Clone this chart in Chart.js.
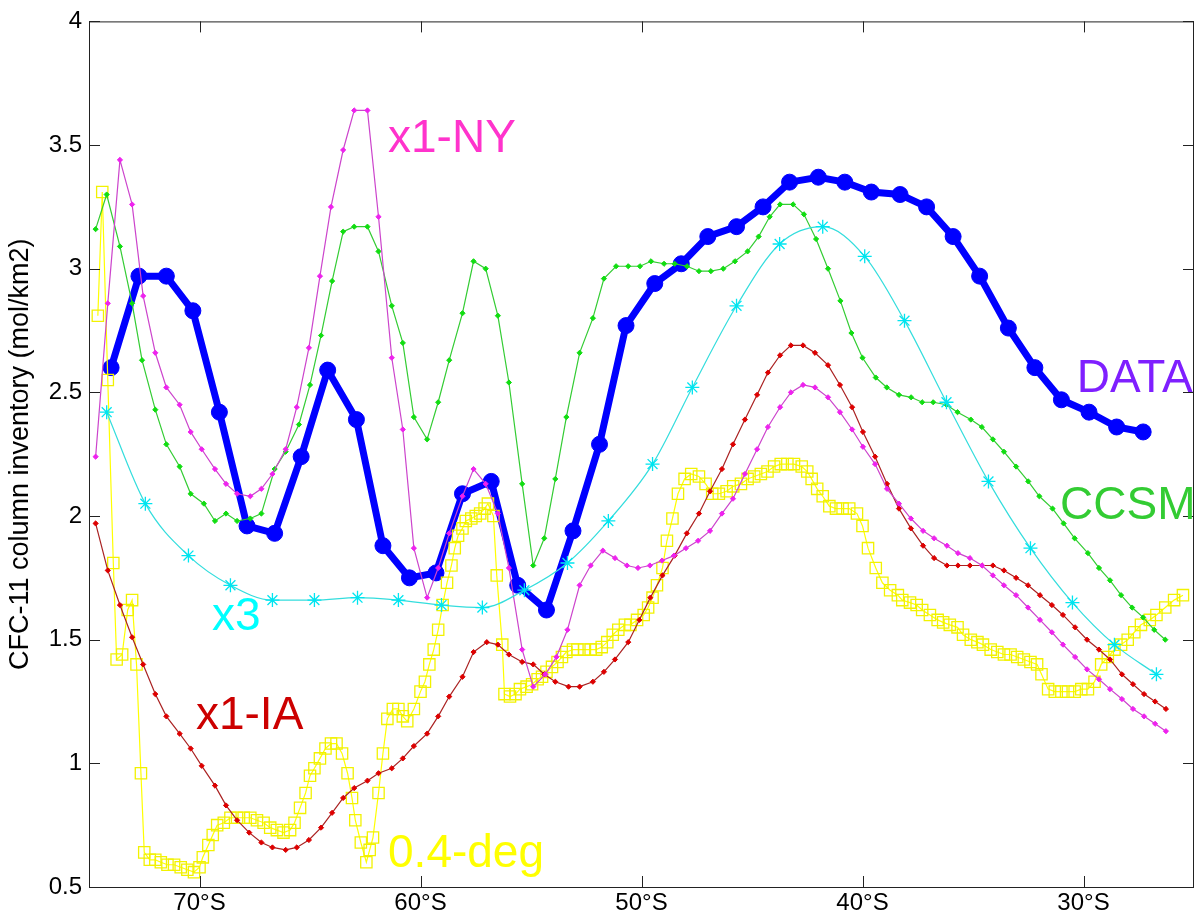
<!DOCTYPE html>
<html>
<head>
<meta charset="utf-8">
<script src="https://cdn.jsdelivr.net/npm/chart.js@4.4.1/dist/chart.umd.min.js"></script>
<style>
html,body{margin:0;padding:0;background:#fff;}
</style>
</head>
<body>
<canvas id="chart" width="1204" height="921"></canvas>
<script>
// ══════════════ DONNÉES ══════════════
const X_TICKS = [-70, -60, -50, -40, -30];
const Y_TICKS = [0.5, 1, 1.5, 2, 2.5, 3, 3.5, 4];

// DATA (observations)
const DATA_LAT = [-74.0,-72.74,-71.5,-70.3,-69.1,-67.85,-66.6,-65.4,-64.2,-62.9,-61.7,-60.5,-59.3,-58.1,-56.8,-55.6,-54.3,-53.1,-51.9,-50.7,-49.4,-48.2,-47.0,-45.7,-44.5,-43.3,-42.0,-40.8,-39.6,-38.3,-37.1,-35.9,-34.7,-33.4,-32.2,-31.0,-29.75,-28.5,-27.3];
const DATA_VAL = [2.60,2.97,2.97,2.83,2.42,1.96,1.93,2.24,2.59,2.39,1.88,1.75,1.77,2.09,2.14,1.72,1.62,1.94,2.29,2.77,2.94,3.02,3.13,3.17,3.25,3.35,3.37,3.35,3.31,3.30,3.25,3.13,2.97,2.76,2.60,2.47,2.42,2.36,2.34];

// CCSM
const CCSM_LAT = [-74.7,-74.2,-73.6,-73.05,-72.6,-72.0,-71.5,-70.9,-70.4,-69.8,-69.3,-68.8,-68.3,-67.7,-67.2,-66.6,-66.1,-65.5,-65.0,-64.5,-64.0,-63.5,-63.0,-62.4,-61.9,-61.3,-60.8,-60.3,-59.7,-59.2,-58.7,-58.1,-57.6,-57.05,-56.5,-56.0,-55.4,-54.9,-54.4,-53.9,-53.4,-52.8,-52.2,-51.7,-51.15,-50.6,-50.07,-49.57,-48.98,-48.5,-47.94,-47.4,-46.86,-46.3,-45.77,-45.2,-44.7,-44.2,-43.73,-43.14,-42.65,-42.1,-41.56,-41.0,-40.5,-40.0,-39.4,-38.9,-38.35,-37.8,-37.3,-36.8,-36.2,-35.7,-35.1,-34.6,-34.1,-33.6,-33.05,-32.5,-32.0,-31.4,-30.9,-30.4,-29.8,-29.3,-28.8,-28.3,-27.8,-27.3,-26.8,-26.3];
const CCSM_VAL = [3.16,3.30,3.09,2.86,2.63,2.43,2.29,2.20,2.09,2.05,1.98,2.01,1.98,1.99,2.01,2.19,2.26,2.37,2.53,2.73,2.95,3.15,3.17,3.17,3.07,2.85,2.70,2.40,2.31,2.46,2.63,2.82,3.03,3.00,2.81,2.54,2.13,1.80,1.91,2.15,2.40,2.66,2.80,2.96,3.01,3.01,3.01,3.03,3.02,3.02,3.01,2.99,2.99,3.00,3.03,3.07,3.13,3.21,3.26,3.26,3.22,3.12,3.00,2.87,2.74,2.64,2.56,2.52,2.49,2.48,2.46,2.46,2.45,2.42,2.39,2.36,2.31,2.26,2.20,2.14,2.08,2.03,1.97,1.91,1.85,1.79,1.74,1.68,1.63,1.59,1.54,1.50];

// x1-NY
const NY_LAT = [-74.7,-74.15,-73.6,-73.05,-72.55,-72.0,-71.5,-70.9,-70.4,-69.9,-69.3,-68.8,-68.3,-67.7,-67.2,-66.7,-66.1,-65.6,-65.05,-64.55,-64.05,-63.5,-63.0,-62.4,-61.9,-61.3,-60.8,-60.3,-59.7,-59.2,-58.7,-58.1,-57.6,-57.05,-56.5,-56.0,-55.4,-54.9,-54.35,-53.85,-53.35,-52.8,-52.3,-51.75,-51.2,-50.66,-50.16,-49.62,-49.07,-48.53,-47.99,-47.44,-46.9,-46.36,-45.86,-45.32,-44.77,-44.28,-43.73,-43.24,-42.69,-42.15,-41.56,-41.02,-40.47,-39.98,-39.43,-38.89,-38.35,-37.81,-37.26,-36.76,-36.18,-35.68,-35.14,-34.59,-34.1,-33.6,-33.05,-32.51,-31.97,-31.43,-30.93,-30.38,-29.84,-29.3,-28.8,-28.26,-27.76,-27.26,-26.76,-26.27];
const NY_VAL = [2.24,2.86,3.44,3.26,2.89,2.66,2.52,2.45,2.34,2.27,2.19,2.13,2.09,2.08,2.11,2.17,2.27,2.44,2.68,2.97,3.25,3.48,3.64,3.64,3.21,2.64,2.35,1.87,1.67,1.79,1.93,2.08,2.19,2.13,2.01,1.79,1.46,1.31,1.36,1.43,1.54,1.72,1.80,1.86,1.83,1.80,1.79,1.80,1.82,1.84,1.87,1.90,1.94,2.01,2.07,2.17,2.27,2.36,2.44,2.50,2.53,2.52,2.48,2.42,2.35,2.28,2.21,2.11,2.05,1.99,1.94,1.91,1.88,1.85,1.83,1.80,1.76,1.72,1.68,1.63,1.58,1.53,1.48,1.43,1.38,1.34,1.30,1.26,1.22,1.19,1.16,1.13];

// x1-IA
const IA_LAT = [-74.7,-74.15,-73.6,-73.05,-72.55,-72.0,-71.5,-70.9,-70.4,-69.9,-69.3,-68.8,-68.3,-67.75,-67.2,-66.7,-66.1,-65.6,-65.05,-64.5,-64.0,-63.5,-63.0,-62.4,-61.9,-61.3,-60.8,-60.3,-59.7,-59.2,-58.7,-58.1,-57.6,-57.0,-56.5,-56.0,-55.4,-54.9,-54.4,-53.9,-53.3,-52.8,-52.2,-51.7,-51.2,-50.6,-50.1,-49.6,-49.05,-48.5,-47.95,-47.4,-46.9,-46.36,-45.86,-45.32,-44.77,-44.28,-43.73,-43.24,-42.69,-42.15,-41.56,-41.02,-40.47,-39.98,-39.43,-38.89,-38.35,-37.81,-37.26,-36.76,-36.18,-35.68,-35.14,-34.59,-34.1,-33.6,-33.05,-32.51,-31.97,-31.43,-30.93,-30.38,-29.84,-29.3,-28.8,-28.26,-27.76,-27.26,-26.76,-26.27];
const IA_VAL = [1.97,1.78,1.64,1.51,1.40,1.28,1.19,1.12,1.06,0.99,0.91,0.83,0.77,0.72,0.68,0.66,0.65,0.66,0.69,0.74,0.80,0.86,0.90,0.93,0.96,0.98,1.02,1.07,1.12,1.19,1.27,1.35,1.45,1.49,1.48,1.44,1.41,1.40,1.36,1.33,1.31,1.31,1.33,1.37,1.42,1.49,1.58,1.67,1.76,1.84,1.93,2.01,2.10,2.19,2.29,2.39,2.49,2.58,2.65,2.69,2.69,2.66,2.61,2.53,2.44,2.34,2.24,2.13,2.03,1.95,1.88,1.83,1.80,1.80,1.80,1.80,1.80,1.78,1.75,1.72,1.68,1.64,1.60,1.55,1.50,1.46,1.42,1.36,1.32,1.28,1.25,1.22];

// x3
const X3_LAT = [-74.2,-72.45,-70.5,-68.6,-66.7,-64.8,-62.85,-61.0,-59.05,-57.2,-55.3,-53.35,-51.5,-49.5,-47.7,-45.7,-43.75,-41.8,-39.9,-38.1,-36.2,-34.3,-32.4,-30.5,-28.6,-26.7];
const X3_VAL = [2.42,2.05,1.84,1.72,1.66,1.66,1.67,1.66,1.64,1.63,1.70,1.81,1.98,2.21,2.52,2.85,3.10,3.17,3.05,2.79,2.46,2.14,1.87,1.65,1.48,1.36];

// 0.4-deg
const DEG04_LAT = [-74.6,-74.4,-74.15,-73.9,-73.75,-73.5,-73.25,-73.05,-72.85,-72.65,-72.5,-72.25,-72.0,-71.75,-71.45,-71.15,-70.85,-70.55,-70.25,-70.0,-69.85,-69.6,-69.4,-69.2,-68.9,-68.6,-68.3,-68.0,-67.7,-67.4,-67.1,-66.8,-66.5,-66.2,-65.9,-65.7,-65.45,-65.2,-65.0,-64.8,-64.55,-64.3,-64.05,-63.8,-63.55,-63.3,-63.1,-62.95,-62.7,-62.45,-62.3,-62.15,-61.9,-61.7,-61.5,-61.25,-61.0,-60.8,-60.6,-60.3,-60.0,-59.8,-59.6,-59.4,-59.2,-59.0,-58.8,-58.6,-58.45,-58.3,-58.1,-57.95,-57.7,-57.5,-57.3,-57.1,-56.95,-56.7,-56.55,-56.3,-56.2,-55.95,-55.7,-55.5,-55.2,-54.95,-54.7,-54.5,-54.3,-54.05,-53.8,-53.6,-53.4,-53.1,-52.9,-52.6,-52.3,-52.05,-51.8,-51.55,-51.3,-51.05,-50.75,-50.5,-50.2,-49.9,-49.7,-49.5,-49.3,-49.05,-48.85,-48.6,-48.35,-48.05,-47.75,-47.4,-47.1,-46.8,-46.5,-46.15,-45.85,-45.5,-45.2,-44.9,-44.6,-44.3,-44.0,-43.7,-43.4,-43.1,-42.75,-42.5,-42.3,-42.05,-41.8,-41.5,-41.2,-40.9,-40.6,-40.25,-40.0,-39.75,-39.4,-39.1,-38.75,-38.4,-38.2,-37.85,-37.55,-37.3,-36.95,-36.6,-36.35,-36.05,-35.7,-35.45,-35.1,-34.8,-34.55,-34.2,-33.9,-33.6,-33.3,-33.0,-32.7,-32.4,-32.1,-31.9,-31.6,-31.3,-31.0,-30.7,-30.4,-30.1,-29.8,-29.5,-29.2,-28.9,-28.6,-28.3,-28.0,-27.7,-27.4,-27.0,-26.7,-26.3,-25.9,-25.5];
const DEG04_VAL = [2.81,3.31,2.55,1.81,1.42,1.44,1.62,1.66,1.40,0.96,0.64,0.61,0.61,0.60,0.59,0.59,0.58,0.57,0.56,0.58,0.62,0.67,0.71,0.75,0.76,0.78,0.78,0.78,0.78,0.77,0.76,0.74,0.73,0.72,0.73,0.76,0.82,0.88,0.95,0.98,1.02,1.06,1.08,1.08,1.04,0.96,0.86,0.77,0.68,0.60,0.65,0.70,0.88,1.04,1.18,1.22,1.22,1.19,1.17,1.22,1.29,1.33,1.40,1.46,1.54,1.64,1.73,1.80,1.87,1.92,1.95,1.98,1.99,2.00,2.01,2.03,2.05,2.00,1.76,1.48,1.28,1.27,1.28,1.30,1.31,1.32,1.34,1.35,1.37,1.39,1.41,1.43,1.45,1.46,1.46,1.46,1.46,1.46,1.47,1.49,1.52,1.54,1.56,1.56,1.58,1.60,1.63,1.67,1.72,1.79,1.90,1.99,2.09,2.15,2.17,2.16,2.13,2.09,2.09,2.10,2.12,2.13,2.15,2.16,2.17,2.18,2.20,2.21,2.21,2.21,2.20,2.18,2.15,2.11,2.08,2.04,2.03,2.03,2.03,2.01,1.96,1.87,1.79,1.73,1.70,1.68,1.66,1.65,1.64,1.62,1.60,1.58,1.57,1.56,1.55,1.52,1.50,1.49,1.48,1.46,1.45,1.44,1.44,1.43,1.42,1.41,1.40,1.36,1.30,1.29,1.29,1.29,1.29,1.30,1.30,1.33,1.40,1.43,1.46,1.48,1.50,1.53,1.56,1.58,1.60,1.63,1.66,1.68];

// Étiquettes posées dans le repère des données
const LABELS = [
  { text:'x1-NY',   lat:-61.47, val:3.47, color:'#ff33cc' },
  { text:'DATA',    lat:-30.3,  val:2.50, color:'#7f1fff' },
  { text:'CCSM',    lat:-31.06, val:1.99, color:'#33cc33' },
  { text:'x3',      lat:-69.43, val:1.54, color:'#00ffff' },
  { text:'x1-IA',   lat:-70.16, val:1.14, color:'#cc0000' },
  { text:'0.4-deg', lat:-61.47, val:0.58, color:'#ffff00' }
];

const FONT = '"Liberation Sans", Arial, Helvetica, sans-serif';
const TICK_LEN = 11;

function pts(lats, vals){
  return lats.map((x,i)=>({ x, y: vals[i] }));
}

function thinSeries(label, lats, vals, line, mark, style, radius){
  return {
    label, data: pts(lats, vals),
    borderColor: line, borderWidth: 1.2,
    pointStyle: style, pointRadius: radius,
    pointBackgroundColor: mark, pointBorderColor: mark, pointBorderWidth: 1,
    tension: 0, clip: false
  };
}

// ══════════════ PLUGINS ══════════════
const framePlugin = {
  id: 'frame',
  afterDraw(chart){
    const { ctx, chartArea:a, scales:{ x, y } } = chart;
    ctx.save();
    ctx.strokeStyle = '#222';
    ctx.lineWidth = 1;
    ctx.strokeRect(a.left + 0.5, a.top + 0.5, a.right - a.left - 1, a.bottom - a.top);
    ctx.beginPath();
    X_TICKS.forEach(v=>{
      const px = Math.round(x.getPixelForValue(v)) + 0.5;
      ctx.moveTo(px, a.bottom); ctx.lineTo(px, a.bottom - TICK_LEN);
      ctx.moveTo(px, a.top);    ctx.lineTo(px, a.top + TICK_LEN);
    });
    Y_TICKS.forEach(v=>{
      const py = Math.round(y.getPixelForValue(v)) + 0.5;
      ctx.moveTo(a.left, py);  ctx.lineTo(a.left + TICK_LEN, py);
      ctx.moveTo(a.right, py); ctx.lineTo(a.right - TICK_LEN, py);
    });
    ctx.stroke();

    // étiquettes des séries
    ctx.font = '46px ' + FONT;
    ctx.textBaseline = 'alphabetic';
    ctx.textAlign = 'left';
    LABELS.forEach(l=>{
      ctx.fillStyle = l.color;
      ctx.fillText(l.text, x.getPixelForValue(l.lat), y.getPixelForValue(l.val));
    });
    ctx.restore();
  }
};

// ══════════════ GRAPHIQUE ══════════════
new Chart(document.getElementById('chart'), {
  type: 'line',
  data: {
    datasets: [
      {
        label: 'x3', data: pts(X3_LAT, X3_VAL),
        borderColor: '#33dddd', borderWidth: 1.2,
        pointStyle: 'star', pointRadius: 7,
        pointBorderColor: '#00e5f0', pointBackgroundColor: '#00e5f0', pointBorderWidth: 1.3,
        cubicInterpolationMode: 'monotone', clip: false
      },
      thinSeries('x1-NY', NY_LAT, NY_VAL, '#cc44cc', '#ee22ee', 'rectRot', 2.6),
      thinSeries('x1-IA', IA_LAT, IA_VAL, '#aa2222', '#dd0000', 'rectRot', 2.6),
      thinSeries('CCSM', CCSM_LAT, CCSM_VAL, '#33cc33', '#11dd11', 'rectRot', 2.6),
      {
        label: '0.4-deg', data: pts(DEG04_LAT, DEG04_VAL),
        borderColor: '#ffff00', borderWidth: 1.2,
        pointStyle: 'rect', pointRadius: 8,
        pointBorderColor: '#f2f200', pointBackgroundColor: 'rgba(0,0,0,0)', pointBorderWidth: 1.3,
        tension: 0, clip: false
      },
      {
        label: 'DATA', data: pts(DATA_LAT, DATA_VAL),
        borderColor: '#0000ff', borderWidth: 7,
        pointStyle: 'circle', pointRadius: 8,
        pointBackgroundColor: '#0000ff', pointBorderColor: '#0000ff', pointBorderWidth: 1,
        tension: 0, clip: false
      }
    ]
  },
  options: {
    responsive: false,
    animation: false,
    devicePixelRatio: 1,
    layout: { padding: { top: 16, right: 10, left: 0, bottom: 0 } },
    plugins: { legend: { display: false }, tooltip: { enabled: false } },
    scales: {
      x: {
        type: 'linear', min: -75, max: -25,
        afterBuildTicks: ax => { ax.ticks = X_TICKS.map(v=>({ value: v })); },
        afterFit: ax => { ax.height = 34; },
        grid: { display: false, drawTicks: false },
        border: { display: false },
        ticks: {
          padding: 2, color: '#000', autoSkip: false, maxRotation: 0,
          font: { family: FONT, size: 24 },
          callback: v => (-v) + '°S'
        }
      },
      y: {
        type: 'linear', min: 0.5, max: 4,
        afterBuildTicks: ax => { ax.ticks = Y_TICKS.map(v=>({ value: v })); },
        afterFit: ax => { ax.width = 89; },
        grid: { display: false, drawTicks: false },
        border: { display: false },
        ticks: {
          padding: 7, color: '#000',
          font: { family: FONT, size: 24 },
          callback: v => String(+v.toFixed(2))
        },
        title: {
          display: true, text: 'CFC-11 column inventory (mol/km2)',
          color: '#000', font: { family: FONT, size: 27 },
          padding: { top: 4, bottom: 0 }
        }
      }
    }
  },
  plugins: [framePlugin]
});
</script>
</body>
</html>
